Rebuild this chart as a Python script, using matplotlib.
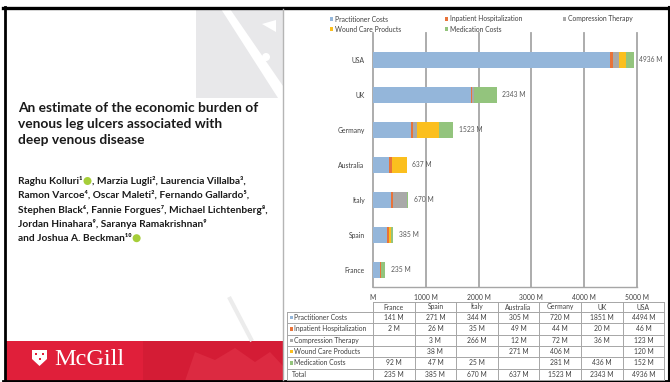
import matplotlib.pyplot as plt
from matplotlib.patches import Rectangle, Polygon, Circle
import numpy as np

# data
countries = ["France", "Spain", "Italy", "Australia", "Germany", "UK", "USA"]
series_names = ["Practitioner Costs", "Inpatient Hospitalization", "Compression Therapy",
                "Wound Care Products", "Medication Costs"]
practitioner = [141, 271, 344, 305, 720, 1851, 4494]
inpatient = [2, 26, 35, 49, 44, 20, 46]
compression = [None, 3, 266, 12, 72, 36, 123]
wound_care = [None, 38, None, 271, 406, None, 120]
medication = [92, 47, 25, None, 281, 436, 152]
totals = [235, 385, 670, 637, 1523, 2343, 4936]
x_ticks = [0, 1000, 2000, 3000, 4000, 5000]

series = [practitioner, inpatient, compression, wound_care, medication]
colors = ["#94b6da", "#e8733a", "#a9a9a9", "#fbbf1e", "#93c47d"]

title_lines = ["An estimate of the economic burden of",
               "venous leg ulcers associated with",
               "deep venous disease"]

W, H = 670, 382
fig = plt.figure(figsize=(W / 100, H / 100), dpi=100)
fig.patch.set_facecolor("white")

# full-figure overlay in pixel units (y down)
bg = fig.add_axes([0, 0, 1, 1])
bg.set_xlim(0, W)
bg.set_ylim(H, 0)
bg.axis("off")


def px_axes(x0, y0, x1, y1):
    return fig.add_axes([x0 / W, 1 - y1 / H, (x1 - x0) / W, (y1 - y0) / H])


chart_font = ["Lato", "DejaVu Sans"]
fs = 4.9
txt_col = "#404040"

# ---- left panel ----
bg.add_patch(Rectangle((196, 9), 87, 89, color="#e8e8ea", lw=0))
bg.add_patch(Polygon([(221, 9), (230, 9), (283, 86), (283, 98), (278, 98)], color="white", lw=0))
bg.add_patch(Circle((266, 57), 4, color="white", lw=0))
bg.add_patch(Polygon([(262, 24), (276, 20), (276, 32)], color="white", lw=0))
bg.plot([229, 252], [297, 341], color="#ececec", lw=3, solid_capstyle="butt")

for i, line in enumerate(title_lines):
    bg.text(18, 108 + i * 16, line, fontsize=9.9, fontweight="bold", family=chart_font,
            color="#1a1a1a", va="center", ha="left")

author_lines = [
    ("Raghu Kolluri\u00b9", ", Marzia Lugli\u00b2, Laurencia Villalba\u00b3,"),
    ("Ramon Varcoe\u2074, Oscar Maleti\u00b2, Fernando Gallardo\u2075,", None),
    ("Stephen Black\u2076, Fannie Forgues\u2077, Michael Lichtenberg\u2078,", None),
    ("Jordan Hinahara\u2079, Saranya Ramakrishnan\u2079", None),
    ("and Joshua A. Beckman\u00b9\u2070", ""),
]
renderer = fig.canvas.get_renderer()
for i, (first, rest) in enumerate(author_lines):
    yy = 181 + i * 14.3
    t = bg.text(18, yy, first, fontsize=7.3, fontweight="bold", family=chart_font,
                color="#1a1a1a", va="center", ha="left")
    if rest is not None:
        x_end = t.get_window_extent(renderer).x1
        bg.add_patch(Circle((x_end + 5, yy), 4, color="#a6ce39", lw=0))
        if rest:
            bg.text(x_end + 9.5, yy, rest, fontsize=7.3, fontweight="bold", family=chart_font,
                    color="#1a1a1a", va="center", ha="left")

# McGill banner
bg.add_patch(Rectangle((5, 341), 278, 40, color="#e01f3a", lw=0))
bg.add_patch(Rectangle((143, 341), 140, 40, color="#d41c35", lw=0))
bg.add_patch(Polygon([(185, 381), (195, 352), (215, 360), (235, 348), (255, 362), (270, 352), (283, 366), (283, 381)],
                     color="#dc2a41", lw=0))
bg.add_patch(Polygon([(32, 350), (47, 350), (47, 359), (39.5, 366), (32, 359)], color="white", lw=0))
bg.add_patch(Rectangle((35, 353), 2.4, 2.4, color="#e01f3a", lw=0))
bg.add_patch(Rectangle((42, 353), 2.4, 2.4, color="#e01f3a", lw=0))
bg.add_patch(Rectangle((38.5, 358), 2.4, 2.4, color="#e01f3a", lw=0))
bg.text(54, 365, "McGill", fontsize=17.5, family=["Liberation Serif"], color="white",
        va="baseline", ha="left")

# frame + divider
bg.plot([3, 670], [7.5, 7.5], color="black", lw=2.4)
bg.plot([4.5, 4.5], [7, 381], color="black", lw=2)
bg.plot([3, 670], [380.8, 380.8], color="black", lw=2)
bg.plot([668.5, 668.5], [7, 381], color="black", lw=1.5)
bg.plot([283, 283], [9, 380], color="#b5b5b5", lw=1)

# ---- legend ----
leg_x = [330, 445, 563]
for i, (name, c) in enumerate(zip(series_names, colors)):
    lx = leg_x[i % 3]
    ly = 19 + (i // 3) * 10
    bg.add_patch(Rectangle((lx, ly - 1.7), 3.4, 3.4, color=c, lw=0))
    bg.text(lx + 5, ly, name, fontsize=fs, family=chart_font, color=txt_col, va="center", ha="left")

# ---- bar chart ----
ax = px_axes(373, 33, 637, 287)
ax.set_zorder(2)
ax.patch.set_alpha(0)
y = np.arange(len(countries))
left = np.zeros(len(countries))
for name, vals, c in zip(series_names, series, colors):
    v = np.array([0 if s is None else s for s in vals], dtype=float)
    ax.barh(y, v, left=left, height=0.46, color=c, label=name, zorder=3)
    left += v

for i, t in enumerate(totals):
    ax.annotate(f"{t} M", (t, y[i]), xytext=(4, 0), textcoords="offset points",
                va="center", ha="left", fontsize=fs, color="#595959", family=chart_font,
                annotation_clip=False)

ax.set_xlim(0, 5000)
ax.set_ylim(-0.49, 6.77)
ax.set_xticks(x_ticks, [f"{v} M" if v else "M" for v in x_ticks])
ax.set_yticks(y, countries)
ax.grid(axis="x", color="#a6a6a6", lw=1.3, zorder=0)
for gl in ax.get_xgridlines():
    gl.set_clip_on(False)
for s in ["top", "right", "left"]:
    ax.spines[s].set_visible(False)
ax.spines["bottom"].set_color("#a6a6a6")
ax.spines["bottom"].set_linewidth(1)
ax.tick_params(axis="x", length=0, pad=5, labelsize=fs, labelcolor=txt_col)
ax.tick_params(axis="y", length=0, pad=6, labelsize=fs, labelcolor=txt_col)
for lab in ax.get_xticklabels() + ax.get_yticklabels():
    lab.set_family(chart_font)

# ---- data table ----
col_w = 41.6
x0 = 373
lab_x0 = 287
top = 302
head_h = 10
row_h = 11.33
rows = list(zip(series_names, series, colors)) + [("Total", totals, None)]
n_rows = len(rows)
grid_c = "#a6a6a6"
bottom = top + head_h + n_rows * row_h
right = x0 + col_w * len(countries)

bg.plot([x0, right], [top, top], color=grid_c, lw=0.7)
for r in range(n_rows + 1):
    yy = top + head_h + r * row_h
    bg.plot([lab_x0, right], [yy, yy], color=grid_c, lw=0.7)
bg.plot([lab_x0, lab_x0], [top + head_h, bottom], color=grid_c, lw=0.7)
for c in range(len(countries) + 1):
    xx = x0 + c * col_w
    bg.plot([xx, xx], [top, bottom], color=grid_c, lw=0.7)

for c, name in enumerate(countries):
    bg.text(x0 + (c + 0.5) * col_w, top + head_h / 2, name, fontsize=fs, family=chart_font,
            color=txt_col, ha="center", va="center")

for r, (name, vals, c) in enumerate(rows):
    yy = top + head_h + (r + 0.5) * row_h
    if c is not None:
        bg.add_patch(Rectangle((lab_x0 + 2.5, yy - 1.7), 3.4, 3.4, color=c, lw=0))
        tx = lab_x0 + 7.5
    else:
        tx = lab_x0 + 5
    bg.text(tx, yy, name, fontsize=fs, family=chart_font, color=txt_col, ha="left", va="center")
    for k, v in enumerate(vals):
        if v is None:
            continue
        bg.text(x0 + (k + 0.5) * col_w, yy, f"{v} M", fontsize=fs, family=chart_font,
                color=txt_col, ha="center", va="center")

fig.savefig("out.png", dpi=100)
